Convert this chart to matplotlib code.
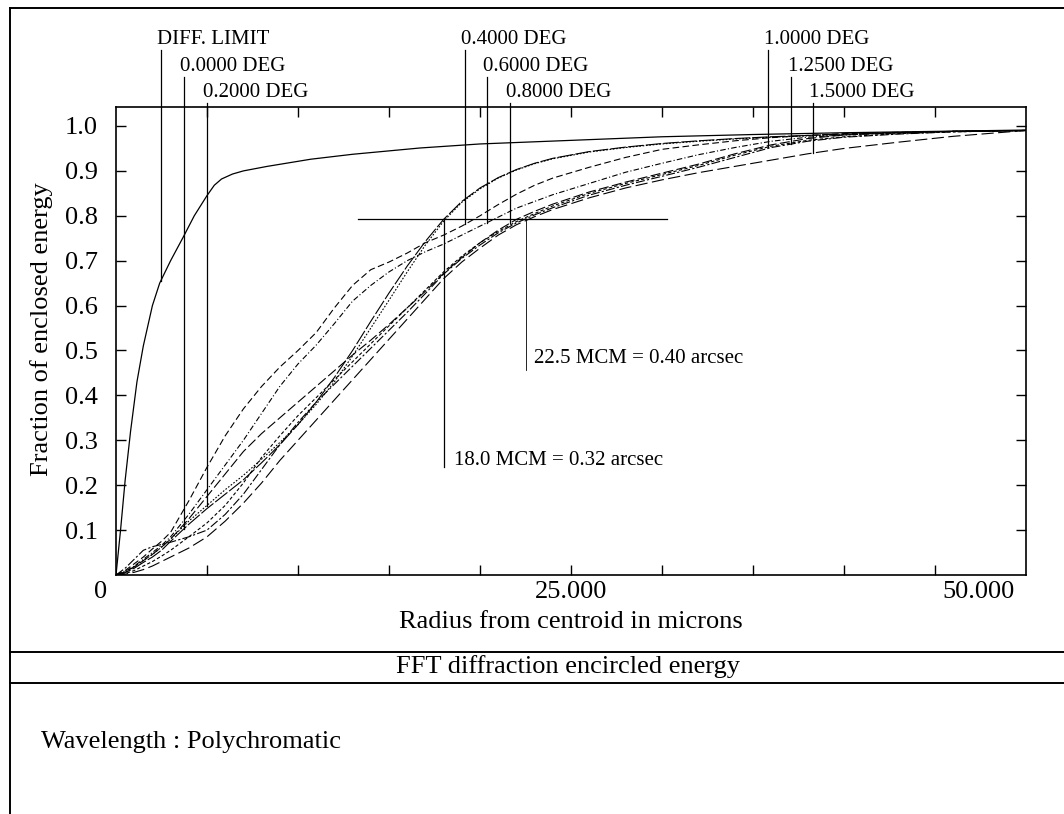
import numpy as np
import matplotlib
matplotlib.use("Agg")
import matplotlib.pyplot as plt
from matplotlib.lines import Line2D
import matplotlib.transforms as mtransforms

plt.rcParams['font.family'] = ['Liberation Serif', 'DejaVu Serif']

# ---------------- data ----------------
r_diff = [0, 0.25, 0.5, 0.8, 1.15, 1.5, 2.0, 2.4, 3.0, 3.7, 4.3, 5.0, 5.4, 5.8, 6.4, 7.0,
          8.3, 10.7, 13.0, 16.7, 20.0, 25.0, 30.0, 35.0, 40.0, 45.0, 50.0]
ee_diff = [0, 0.10, 0.21, 0.32, 0.43, 0.51, 0.60, 0.65, 0.70, 0.753, 0.80, 0.845, 0.868, 0.882,
           0.893, 0.90, 0.91, 0.926, 0.937, 0.951, 0.96, 0.968, 0.976, 0.981, 0.985, 0.988, 0.991]

radius = [0, 0.5, 1, 1.5, 2, 2.5, 3, 4, 5, 6, 7, 8, 9, 10, 11, 12, 13, 14, 15, 16, 17, 18, 19,
          20, 21, 22, 23, 24, 26, 28, 30, 32, 34, 36, 38, 40, 43, 46, 50]

ee_00 = [0, 0.005, 0.015, 0.028, 0.04, 0.055, 0.075, 0.113, 0.148, 0.18, 0.212, 0.25, 0.29,
         0.335, 0.385, 0.44, 0.50, 0.565, 0.628, 0.688, 0.743, 0.792, 0.832, 0.862, 0.885,
         0.903, 0.917, 0.928, 0.943, 0.953, 0.961, 0.967, 0.972, 0.976, 0.979, 0.982, 0.985,
         0.988, 0.99]
ee_02 = [0, 0.006, 0.018, 0.032, 0.046, 0.062, 0.08, 0.12, 0.155, 0.19, 0.222, 0.258, 0.295,
         0.335, 0.38, 0.43, 0.488, 0.55, 0.612, 0.675, 0.735, 0.788, 0.83, 0.86, 0.884, 0.902,
         0.916, 0.927, 0.942, 0.952, 0.96, 0.966, 0.971, 0.975, 0.978, 0.981, 0.985, 0.988, 0.99]
ee_04 = [0, 0.01, 0.025, 0.04, 0.058, 0.075, 0.095, 0.165, 0.24, 0.31, 0.37, 0.42, 0.463,
         0.50, 0.54, 0.595, 0.645, 0.68, 0.697, 0.717, 0.74, 0.757, 0.777, 0.80, 0.825, 0.848,
         0.868, 0.884, 0.908, 0.93, 0.948, 0.958, 0.967, 0.974, 0.979, 0.983, 0.986, 0.988, 0.99]
ee_06 = [0, 0.008, 0.02, 0.035, 0.05, 0.066, 0.085, 0.135, 0.19, 0.245, 0.30, 0.36, 0.42,
         0.47, 0.512, 0.56, 0.61, 0.645, 0.675, 0.70, 0.72, 0.737, 0.757, 0.777, 0.797, 0.817,
         0.832, 0.847, 0.872, 0.897, 0.917, 0.936, 0.952, 0.966, 0.975, 0.98, 0.985, 0.988, 0.99]
ee_08 = [0, 0.007, 0.018, 0.032, 0.046, 0.062, 0.08, 0.125, 0.175, 0.225, 0.275, 0.315, 0.35,
         0.385, 0.42, 0.455, 0.49, 0.523, 0.558, 0.595, 0.632, 0.672, 0.707, 0.74, 0.768, 0.792,
         0.81, 0.826, 0.853, 0.875, 0.895, 0.915, 0.938, 0.958, 0.972, 0.98, 0.985, 0.988, 0.99]
ee_10 = [0, 0.003, 0.01, 0.02, 0.03, 0.042, 0.055, 0.085, 0.116, 0.155, 0.205, 0.262, 0.31,
         0.355, 0.395, 0.435, 0.475, 0.515, 0.555, 0.595, 0.635, 0.675, 0.71, 0.74, 0.765,
         0.787, 0.805, 0.822, 0.85, 0.872, 0.892, 0.912, 0.935, 0.955, 0.968, 0.976, 0.983,
         0.987, 0.99]
ee_125 = [0, 0.015, 0.035, 0.055, 0.063, 0.068, 0.073, 0.085, 0.10, 0.135, 0.18, 0.235, 0.29,
          0.34, 0.385, 0.425, 0.465, 0.505, 0.545, 0.585, 0.627, 0.67, 0.705, 0.735, 0.762,
          0.784, 0.802, 0.818, 0.846, 0.868, 0.888, 0.908, 0.93, 0.952, 0.966, 0.975, 0.982,
          0.987, 0.99]
ee_15 = [0, 0.002, 0.006, 0.012, 0.02, 0.03, 0.04, 0.06, 0.085, 0.12, 0.16, 0.205, 0.255,
         0.30, 0.345, 0.39, 0.435, 0.48, 0.525, 0.57, 0.615, 0.66, 0.697, 0.728, 0.757, 0.78,
         0.798, 0.814, 0.84, 0.862, 0.88, 0.896, 0.91, 0.924, 0.938, 0.95, 0.964, 0.977, 0.99]

field_labels = ["0.0000 DEG", "0.2000 DEG", "0.4000 DEG", "0.6000 DEG",
                "0.8000 DEG", "1.0000 DEG", "1.2500 DEG", "1.5000 DEG"]
field_curves = [ee_00, ee_02, ee_04, ee_06, ee_08, ee_10, ee_125, ee_15]
diff_label = "DIFF. LIMIT"

# leader-line radii for labels (diff limit first, then fields)
leader_r = [2.45, 3.74, 4.98, 19.18, 20.38, 21.65, 35.8, 37.1, 38.3]

ee80_level = 0.792
r80_best = 18.0
r80_worst = 22.5
best_text = "18.0 MCM = 0.32 arcsec"
worst_text = "22.5 MCM = 0.40 arcsec"

x_tick_labels = ["0", "25.000", "50.000"]
y_ticks = [0.1, 0.2, 0.3, 0.4, 0.5, 0.6, 0.7, 0.8, 0.9, 1.0]
y_tick_labels = ["0.1", "0.2", "0.3", "0.4", "0.5", "0.6", "0.7", "0.8", "0.9", "1.0"]

xlabel = "Radius from centroid in microns"
ylabel = "Fraction of enclosed energy"
title = "FFT diffraction encircled energy"
footer = "Wavelength : Polychromatic"

# ---------------- figure ----------------
W, H = 1064, 814
fig = plt.figure(figsize=(W / 100, H / 100), dpi=100)
fig.patch.set_facecolor('white')

def fx(px):
    return px / W

def fy(py):
    return 1 - py / H

ax_l, ax_r, ax_t, ax_b = 116, 1026, 107, 575
ax = fig.add_axes([fx(ax_l), fy(ax_b), (ax_r - ax_l) / W, (ax_b - ax_t) / H])
ax.set_xlim(0, 50)
ax.set_ylim(0, 1.0423)

FS = 19
LFS = 15

styles = [(0, (14, 2)), (0, (1.5, 1.5)), (0, (6, 3)), (0, (5, 2, 1, 2)),
          (0, (9, 3)), (0, (3, 2)), (0, (8, 2, 2, 2)), (0, (11, 4))]

ax.plot(r_diff, ee_diff, color='black', lw=0.9, solid_joinstyle='round')
for curve, ls in zip(field_curves, styles):
    ax.plot(radius, curve, color='black', lw=0.8, linestyle=ls)

for s in ax.spines.values():
    s.set_linewidth(1.2)

ax.set_xticks(np.arange(5, 50, 5))
ax.set_xticklabels([])
ax.set_yticks(y_ticks)
ax.set_yticklabels(y_tick_labels, fontsize=FS)
ax.tick_params(axis='both', direction='in', length=7, width=1.0,
               top=True, right=True, bottom=True, left=True)
ax.tick_params(axis='y', pad=13)

# x tick labels (Zemax-style placement)
xt = mtransforms.blended_transform_factory(ax.transData, ax.transAxes)
lab_y = -(592 - ax_b) / (ax_b - ax_t)
ax.text(-0.5, lab_y, x_tick_labels[0], transform=xt, ha='right', va='center', fontsize=FS)
ax.text(25, lab_y, x_tick_labels[1], transform=xt, ha='center', va='center', fontsize=FS)
ax.text(49.4, lab_y, x_tick_labels[2], transform=xt, ha='right', va='center', fontsize=FS)

# leader labels
all_labels = [diff_label] + field_labels
all_curves_r = [r_diff] + [radius] * 8
all_curves_v = [ee_diff] + field_curves
row_base_px = [44, 71, 97]
row_line_px = [50, 77, 103]
for i, (lab, lr) in enumerate(zip(all_labels, leader_r)):
    row = i % 3
    yb = (ax_b - row_base_px[row]) / (ax_b - ax_t)
    yl = (ax_b - row_line_px[row]) / (ax_b - ax_t)
    vend = np.interp(lr, all_curves_r[i], all_curves_v[i])
    yend = vend / 1.0423
    ax.plot([lr, lr], [yl, yend], transform=xt, color='black', lw=0.9, clip_on=False)
    ax.text(lr - 0.2, yb, lab, transform=xt, ha='left', va='baseline', fontsize=LFS)

# 80% crosshair
ax.plot([13.3, 30.3], [ee80_level, ee80_level], color='black', lw=0.9)
y_best_end = (ax_b - 467) / (ax_b - ax_t) * 1.0423
y_worst_end = (ax_b - 370) / (ax_b - ax_t) * 1.0423
ax.plot([r80_best, r80_best], [ee80_level, y_best_end], color='black', lw=0.9)
ax.plot([r80_worst, r80_worst], [ee80_level, y_worst_end], color='black', lw=0.6)
ax.text(r80_best + 0.55, (ax_b - 465) / (ax_b - ax_t) * 1.0423, best_text,
        ha='left', va='baseline', fontsize=LFS)
ax.text(r80_worst + 0.45, (ax_b - 363) / (ax_b - ax_t) * 1.0423, worst_text,
        ha='left', va='baseline', fontsize=LFS)

# axis labels
fig.text(fx(571), fy(622), xlabel, ha='center', va='center', fontsize=FS)
fig.text(fx(42), fy(329), ylabel, ha='center', va='center', rotation=90, fontsize=FS)

# frame and bottom panel
frame_lw = 1.4
fig.add_artist(Line2D([fx(10), 1], [fy(8), fy(8)], color='black', lw=frame_lw))
fig.add_artist(Line2D([fx(10), fx(10)], [fy(8), 0], color='black', lw=frame_lw))
fig.add_artist(Line2D([fx(10), 1], [fy(652), fy(652)], color='black', lw=frame_lw))
fig.add_artist(Line2D([fx(10), 1], [fy(683), fy(683)], color='black', lw=frame_lw))
fig.text(fx(568), fy(667), title, ha='center', va='center', fontsize=FS)
fig.text(fx(41), fy(742), footer, ha='left', va='center', fontsize=FS)

fig.savefig("out.png", dpi=100)
